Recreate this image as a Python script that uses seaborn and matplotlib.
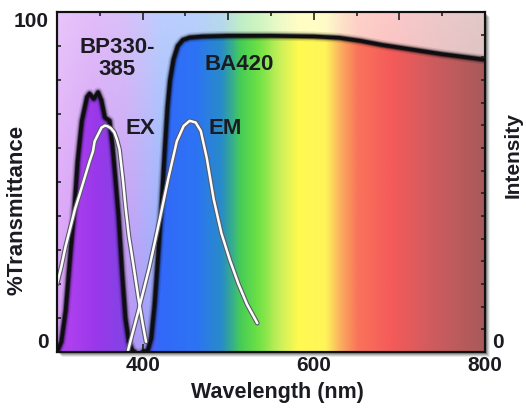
import numpy as np
import matplotlib
matplotlib.use("Agg")
import matplotlib.pyplot as plt
import seaborn as sns
from matplotlib.colors import LinearSegmentedColormap
from matplotlib.patches import Rectangle

# ---------------- data ----------------
bp_nm = [300, 305, 310, 316, 320.5, 324, 329, 335, 338, 343, 348, 352, 356, 361.5, 365, 368, 372, 376, 380, 384, 388, 391]
bp_t = [0, 3, 12, 30, 43, 56, 68, 75, 76, 74.5, 76.4, 74, 69, 68, 60.5, 52, 40, 24, 10, 3, 0.5, 0]

ba_nm = [400, 406, 410, 414, 418, 422, 426, 429, 432, 436, 441, 447, 455, 470, 500, 550, 600, 630, 655, 680, 714, 750, 800]
ba_t = [0, 0.5, 4, 14, 28, 43, 60, 72, 80, 86, 90, 91.8, 92.5, 92.8, 93, 93, 92.8, 92.4, 91.5, 90.3, 89, 87.6, 86]

ex_nm = [300, 305, 310, 316, 321, 326, 332, 338, 342, 344, 348, 352, 356, 359, 363, 367, 370, 373, 377, 380, 384, 389, 395, 400, 404]
ex_t = [20, 25, 31, 37, 42, 46, 51, 56, 59, 62, 64, 66, 66.6, 66.4, 65.8, 64.6, 62.5, 59.6, 50.7, 42.8, 34, 26, 16, 8.5, 3]

em_nm = [383, 395, 408, 420, 430, 440, 448, 455, 462, 468, 475, 483, 492, 502, 512, 522, 534]
em_t = [0.5, 12, 25, 39, 51, 62, 66.5, 68, 67.5, 65, 57, 45, 35, 27, 20, 14, 8.5]

x_ticks = [300, 400, 500, 600, 700, 800]
x_labels = ["", "400", "", "600", "", "800"]
y_ticks = [0, 100]
y_labels = ["0", "100"]

# ---------------- style ----------------
sns.set_style("white")
plt.rcParams["font.family"] = ["Liberation Sans", "DejaVu Sans"]
plt.rcParams["font.weight"] = "bold"
plt.rcParams["axes.labelweight"] = "bold"
TXT = "#1b1b22"

spec_anchor = [
    (300, (185, 80, 240)), (340, (165, 55, 238)), (380, (140, 65, 235)),
    (405, (90, 90, 245)), (420, (50, 105, 250)), (462, (45, 115, 245)),
    (492, (40, 140, 200)), (515, (70, 205, 85)), (535, (110, 225, 70)),
    (562, (205, 240, 90)), (582, (255, 250, 80)), (614, (255, 245, 90)),
    (630, (250, 180, 95)), (652, (250, 115, 90)), (692, (245, 90, 90)),
    (742, (205, 92, 95)), (800, (168, 90, 90)),
]
cmap = LinearSegmentedColormap.from_list(
    "spec", [((w - 300) / 500, tuple(c / 255 for c in rgb)) for w, rgb in spec_anchor])

fig = plt.figure(figsize=(5.26, 4.09), dpi=100)
fig.patch.set_facecolor("white")
x0, y0, w0, h0 = 57 / 526, 57 / 409, 428 / 526, 340 / 409
# soft drop shadow of the frame
for k, a in [(5, 0.08), (4, 0.12), (3, 0.16), (2, 0.2)]:
    fig.patches.append(Rectangle((x0 + k / 526, y0 - k / 409), w0, h0,
                                 transform=fig.transFigure, facecolor="black",
                                 edgecolor="none", alpha=a, zorder=-5))
ax = fig.add_axes([x0, y0, w0, h0])

xs = np.linspace(300, 800, 501)
sat = cmap((xs - 300) / 500)[:, :3]
yy = np.linspace(0, 1, 200)
wgt = (0.42 + 0.25 * yy)[:, None, None]
pale = wgt * 1.0 + (1 - wgt) * sat[None, :, :]
ax.imshow(pale, extent=[300, 800, 0, 100], origin="lower", aspect="auto",
          zorder=0, interpolation="bilinear")

sat_img = np.repeat(sat[None, :, :], 2, axis=0)
im_ba = ax.imshow(sat_img, extent=[300, 800, 0, 100], origin="lower",
                  aspect="auto", zorder=1, interpolation="bilinear")
poly_ba = ax.fill_between(ba_nm, ba_t, color="none", lw=0)
im_ba.set_clip_path(poly_ba.get_paths()[0], transform=ax.transData)

bp_col = np.array([[[0.68, 0.25, 0.94], [0.60, 0.22, 0.92], [0.52, 0.26, 0.90]]])
im_bp = ax.imshow(bp_col, extent=[300, 392, 0, 100], origin="lower",
                  aspect="auto", zorder=1, interpolation="bilinear")
poly_bp = ax.fill_between(bp_nm, bp_t, color="none", lw=0)
im_bp.set_clip_path(poly_bp.get_paths()[0], transform=ax.transData)

kw = dict(ax=ax, estimator=None, sort=False, legend=False)
for xv, yv in [(bp_nm, bp_t), (ba_nm, ba_t)]:
    for lw, a in [(7, 0.1), (5, 0.2), (3.8, 0.4)]:
        sns.lineplot(x=xv, y=yv, color="black", lw=lw, alpha=a, zorder=3,
                     solid_joinstyle="round", solid_capstyle="round", **kw)
    sns.lineplot(x=xv, y=yv, color="#0d0d12", lw=2.6, zorder=3.5,
                 solid_joinstyle="round", solid_capstyle="round", **kw)
for xv, yv in [(ex_nm, ex_t), (em_nm, em_t)]:
    sns.lineplot(x=xv, y=yv, color="#5a5a66", lw=3.4, zorder=4,
                 solid_joinstyle="round", solid_capstyle="round", **kw)
    sns.lineplot(x=xv, y=yv, color="white", lw=1.8, zorder=4.5,
                 solid_joinstyle="round", solid_capstyle="round", **kw)

ax.set_xlim(300, 800)
ax.set_ylim(0, 100)
ax.set_xticks(x_ticks)
ax.set_xticklabels(x_labels)
ax.set_xticks([350, 450, 550, 650, 750], minor=True)
ax.set_yticks(y_ticks)
ax.set_yticklabels(y_labels)
ax.set_yticks(list(range(10, 100, 10)), minor=True)
ax.tick_params(which="both", direction="in", top=True, bottom=True,
               left=True, right=False, width=1.2, colors="#222222",
               labelcolor=TXT, labelsize=15)
ax.tick_params(which="major", length=5.5)
ax.tick_params(which="minor", length=3)
ax.tick_params(axis="x", pad=3)
ax.tick_params(axis="y", pad=6)
ylabs = ax.get_yticklabels()
ylabs[0].set_va("bottom")
ylabs[1].set_va("top")
for s in ax.spines.values():
    s.set_linewidth(1.5)
    s.set_color("#111111")
    s.set_zorder(6)

tw = ax.twinx()
tw.set_ylim(0, 15)
tw.set_yticks([0])
tw.set_yticklabels(["0"])
tw.set_yticks(list(range(1, 15)), minor=True)
tw.tick_params(which="both", direction="in", width=1.2, colors="#222222",
               labelcolor=TXT, labelsize=15, pad=5)
tw.tick_params(which="major", length=5.5)
tw.tick_params(which="minor", length=3)
tw.get_yticklabels()[0].set_va("bottom")
for s in tw.spines.values():
    s.set_linewidth(1.5)
    s.set_color("#111111")

ax.set_xlabel("Wavelength (nm)", fontsize=15.5, color=TXT)
ax.xaxis.set_label_coords(0.514, -0.12)
ax.xaxis.label.set_va("center")
ax.set_ylabel("%Transmittance", fontsize=16, color=TXT)
ax.yaxis.set_label_coords(-0.093, 0.418)
ax.yaxis.label.set_va("center")
tw.set_ylabel("Intensity", fontsize=15, color=TXT, rotation=90)
tw.yaxis.set_label_coords(1.066, 0.58)
tw.yaxis.label.set_va("center")

tk = dict(fontsize=16, fontweight="bold", color=TXT, ha="center", va="center", zorder=7)
ax.text(370, 86.4, "BP330-\n385", linespacing=1.05, **tk)
ax.text(513, 84.7, "BA420", **tk)
ax.text(397, 65.8, "EX", **tk)
ax.text(497, 65.8, "EM", **tk)

fig.savefig("out.png", dpi=100, facecolor="white")
